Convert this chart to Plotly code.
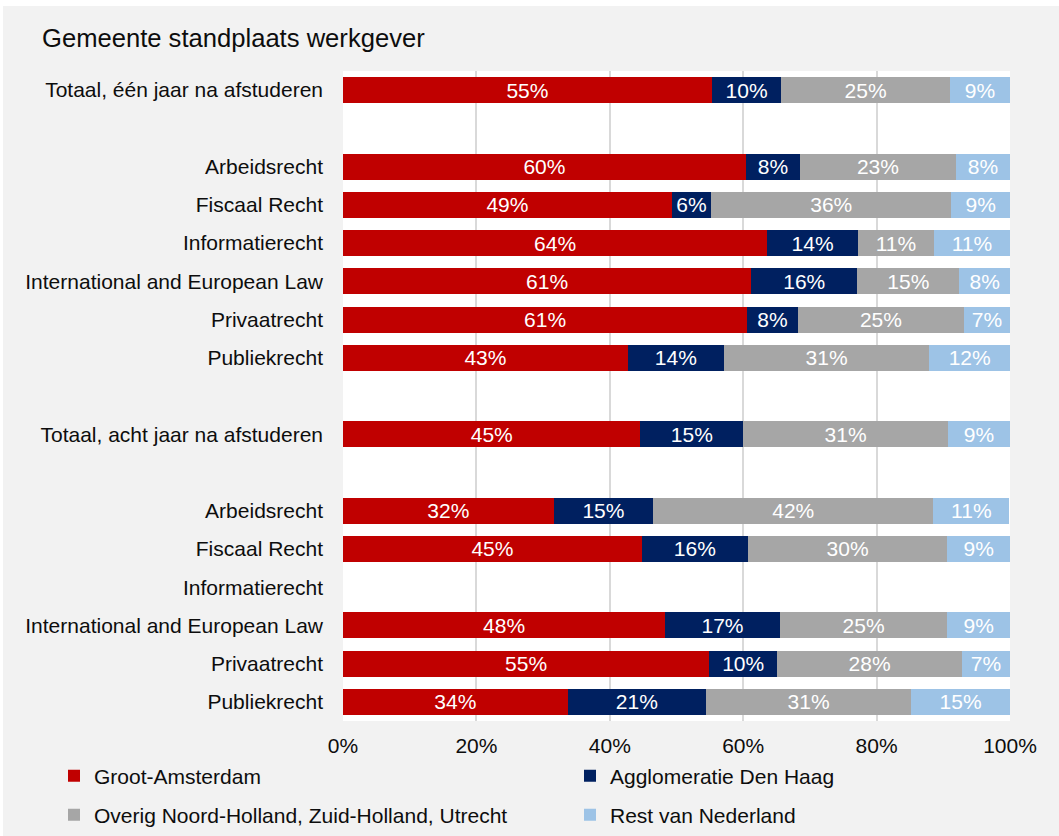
import plotly.graph_objects as go

categories = [
    "Totaal, één jaar na afstuderen", "",
    "Arbeidsrecht", "Fiscaal Recht", "Informatierecht",
    "International and European Law", "Privaatrecht", "Publiekrecht", "",
    "Totaal, acht jaar na afstuderen", "",
    "Arbeidsrecht", "Fiscaal Recht", "Informatierecht",
    "International and European Law", "Privaatrecht", "Publiekrecht",
]

groot_amsterdam = [55.3, None, 60.4, 49.3, 63.6, 61.2, 60.6, 42.7, None,
                   44.6, None, 31.6, 44.8, None, 48.3, 54.9, 33.7]
den_haag = [10.4, None, 8.1, 5.9, 13.6, 15.9, 7.6, 14.4, None,
            15.4, None, 14.9, 15.9, None, 17.2, 10.2, 20.7]
overig_randstad = [25.3, None, 23.4, 36.0, 11.4, 15.3, 24.9, 30.8, None,
                   30.7, None, 42.0, 29.9, None, 25.1, 27.7, 30.8]
rest_nederland = [9.0, None, 8.1, 8.8, 11.4, 7.6, 6.9, 12.1, None,
                  9.3, None, 11.4, 9.4, None, 9.4, 7.2, 14.8]

series = [
    ("Groot-Amsterdam", groot_amsterdam, "#C00000"),
    ("Agglomeratie Den Haag", den_haag, "#002060"),
    ("Overig Noord-Holland, Zuid-Holland, Utrecht", overig_randstad, "#A6A6A6"),
    ("Rest van Nederland", rest_nederland, "#9DC3E6"),
]

W, H = 1059, 836
L, R, T, B = 343, 49, 71, 115
PW, PH = W - L - R, H - T - B
FONT = "Liberation Sans, Arial, sans-serif"
TXT = "#0d0d0d"
positions = list(range(len(categories)))

# legend anchor positions (container pixels): (x of legend box, y centre of row)
legend_pos = [(54, 776), (570, 776), (54, 815), (570, 815)]
legend_ids = ["legend", "legend2", "legend3", "legend4"]

fig = go.Figure()
for (name, vals, color), lid in zip(series, legend_ids):
    fig.add_trace(go.Bar(
        name=name, x=vals, y=positions, orientation="h",
        marker=dict(color=color, line=dict(width=0)),
        text=[None if v is None else f"{v:.0f}%" for v in vals],
        textposition="inside", insidetextanchor="middle",
        textfont=dict(color="white", size=21, family=FONT),
        legend=lid, showlegend=True, hoverinfo="skip",
    ))

legends = {}
for lid, (lx, ly) in zip(legend_ids, legend_pos):
    legends[lid] = dict(orientation="h", xref="container", yref="container",
                        x=lx / W, y=1 - ly / H, xanchor="left", yanchor="middle",
                        font=dict(size=21, family=FONT, color=TXT),
                        bgcolor="rgba(0,0,0,0)", borderwidth=0, visible=True)

fig.update_layout(
    showlegend=True,
    barmode="stack", bargap=0.32,
    width=W, height=H,
    margin=dict(l=L, r=R, t=T, b=B, autoexpand=False),
    paper_bgcolor="#F2F2F2", plot_bgcolor="white",
    font=dict(family=FONT, color=TXT, size=21),
    uniformtext=dict(minsize=21, mode="show"),
    title=dict(text="Gemeente standplaats werkgever", xref="container", yref="container",
               x=42 / W, y=1 - 38 / H, xanchor="left", yanchor="middle",
               font=dict(size=25.6, color=TXT, family=FONT)),
    xaxis=dict(range=[0, 100], tickvals=[0, 20, 40, 60, 80, 100],
               ticktext=["0%", "20%", "40%", "60%", "80%", "100%"],
               showgrid=True, gridcolor="#D9D9D9", gridwidth=2,
               zeroline=False, showline=False, ticks="", ticklabelstandoff=10,
               tickfont=dict(size=21, family=FONT, color=TXT), fixedrange=True),
    yaxis=dict(range=[len(categories) - 0.5, -0.5], tickvals=positions, ticktext=categories,
               showgrid=False, zeroline=False, showline=False, ticks="",
               ticklabelstandoff=19,
               tickfont=dict(size=21, family=FONT, color=TXT), fixedrange=True),
    shapes=[
        # thin white strips along the top and left edges of the page
        dict(type="rect", xref="paper", yref="paper", x0=-2, x1=2,
             y0=1 + (T - 6) / PH, y1=1 + (T + 20) / PH,
             fillcolor="white", line=dict(width=0), layer="below"),
        dict(type="rect", xref="paper", yref="paper", x0=-(L + 20) / PW, x1=-(L - 3) / PW,
             y0=-1, y1=2, fillcolor="white", line=dict(width=0), layer="below"),
    ],
    **legends,
)

fig.write_html("out.html", config={"displayModeBar": False},
               post_script="document.body.style.margin='0px';")
